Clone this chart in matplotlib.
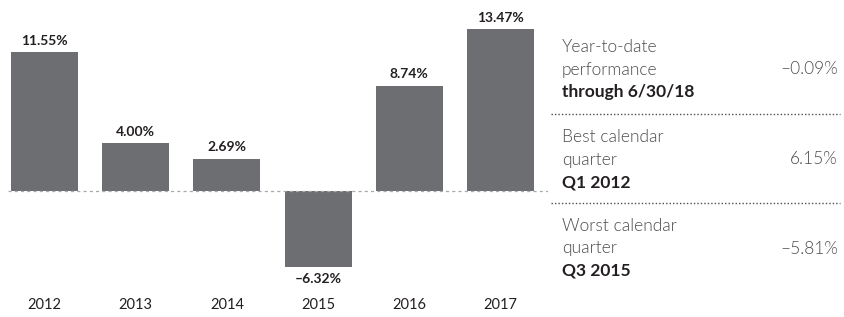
import matplotlib
matplotlib.use("Agg")
import numpy as np
from matplotlib import pyplot as plt
from matplotlib.lines import Line2D
from matplotlib.transforms import blended_transform_factory

years = ["2012", "2013", "2014", "2015", "2016", "2017"]
returns = [11.55, 4.00, 2.69, -6.32, 8.74, 13.47]

stat_labels = [("Year-to-date", "performance", "through 6/30/18"),
               ("Best calendar", "quarter", "Q1 2012"),
               ("Worst calendar", "quarter", "Q3 2015")]
stat_values = ["\u20130.09%", "6.15%", "\u20135.81%"]

plt.rcParams['font.family'] = ['Lato', 'DejaVu Sans']

W, H = 845, 317
fig = plt.figure(figsize=(W / 100, H / 100), dpi=100)
ax = fig.add_axes([0, 0, 548 / W, 1])

bar_color = '#6d6e71'
text_dark = '#231f20'
text_light = '#4d4d4f'
x = np.arange(len(years))
ax.bar(x, returns, width=0.735, color=bar_color, zorder=2)
ax.axhline(0, xmin=8 / 548, xmax=1, color='#a7a9ac', lw=0.9,
           ls=(0, (2.5, 2.5)), zorder=3)

ax.set_xlim(-0.488, 5.52)
ax.set_ylim(-10.47, 15.88)
ax.axis('off')

for xi, v in zip(x, returns):
    label = f"{v:.2f}%".replace("-", "\u2013")
    if v >= 0:
        ax.text(xi, v + 0.45, label, ha='center', va='bottom', fontsize=10,
                fontweight='bold', color=text_dark)
    else:
        ax.text(xi, v - 0.5, label, ha='center', va='top', fontsize=10,
                fontweight='bold', color=text_dark)

tr = blended_transform_factory(ax.transData, ax.transAxes)
for xi, yr in zip(x, years):
    ax.text(xi, 12 / H, yr, transform=tr, ha='center', va='center',
            fontsize=10.5, color=text_dark)

# right-hand stats panel
tx, vx = 562 / W, 838 / W
tops = [47, 137, 226]
line_h = 22.5
fs = 12.5
for lines, val, top in zip(stat_labels, stat_values, tops):
    for i, s in enumerate(lines):
        bold = i == 2
        fig.text(tx, 1 - (top + i * line_h) / H, s, ha='left', va='center',
                 fontsize=fs, fontweight='bold' if bold else 300,
                 color=text_dark if bold else text_light)
    fig.text(vx, 1 - (top + line_h) / H, val, ha='right', va='center',
             fontsize=fs, fontweight=300, color=text_light)

for sy in [114, 203]:
    fig.add_artist(Line2D([551 / W, 840 / W], [1 - sy / H, 1 - sy / H],
                          transform=fig.transFigure, color=text_light,
                          lw=1.0, ls=(0, (1, 1.5))))

fig.savefig("out.png", dpi=100)
